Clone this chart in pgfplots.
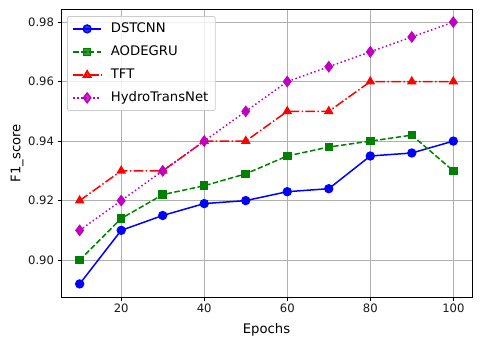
\documentclass[border=0pt]{standalone}
\usepackage{fontspec}
\setmainfont{DejaVu Sans}
\usepackage{pgfplots}
\pgfplotsset{compat=1.18}
\usepackage{pgfplotstable}
\usetikzlibrary{calc}

\definecolor{hydro}{rgb}{0.75,0,0.75}
\definecolor{aode}{rgb}{0,0.5,0}
\definecolor{gridgray}{HTML}{B0B0B0}
\definecolor{legedge}{HTML}{CCCCCC}

\pgfplotstableread{
epoch dstcnn aodegru tft hydro
10  0.892 0.900 0.920 0.910
20  0.910 0.914 0.930 0.920
30  0.915 0.922 0.930 0.930
40  0.919 0.925 0.940 0.940
50  0.920 0.929 0.940 0.950
60  0.923 0.935 0.950 0.960
70  0.924 0.938 0.950 0.965
80  0.935 0.940 0.960 0.970
90  0.936 0.942 0.960 0.975
100 0.940 0.930 0.960 0.980
}\scores

\begin{document}
\begin{tikzpicture}
\begin{axis}[
    scale only axis,
    width=411pt, height=288pt,
    xmin=5.5, xmax=104.5,
    ymin=0.8876, ymax=0.9844,
    xtick={20,40,60,80,100},
    ytick={0.90,0.92,0.94,0.96,0.98},
    yticklabel style={/pgf/number format/.cd, fixed, fixed zerofill, precision=2},
    /pgf/number format/assume math mode=true,
    tick label style={font=\fontsize{11.6}{13}\selectfont, text=black!90},
    tick align=outside,
    major tick length=3.5pt,
    every tick/.style={black, line width=0.8pt},
    xtick pos=left, ytick pos=left,
    grid=major,
    major grid style={gridgray, line width=0.8pt},
    axis line style={black, line width=0.8pt},
    xlabel={Epochs},
    ylabel={F1\_score},
    label style={font=\fontsize{13.2}{15}\selectfont},
    xlabel style={at={(axis description cs:0.5,-0.1146)}, anchor=center},
    ylabel style={at={(axis description cs:-0.107,0.5)}, anchor=center},
    legend style={at={(axis description cs:0,1)}, anchor=north west,
        xshift=6pt, yshift=-7pt,
        draw=legedge, line width=0.8pt, rounded corners=2pt,
        fill=white, fill opacity=0.8, text opacity=1,
        font=\fontsize{13.2}{15}\selectfont,
        row sep=6pt, inner xsep=5pt, inner ysep=4pt,
        nodes={text height=10pt, text depth=3pt, inner sep=2pt},
        /tikz/every odd column/.append style={column sep=7pt},
        cells={anchor=west}},
    legend cell align=left,
    legend image code/.code={
        \draw[mark repeat=2,mark phase=2] plot coordinates {(0pt,0pt) (14pt,0pt) (28pt,0pt)};},
]
\addplot[blue, line width=1.5pt, mark=*, mark size=3.9pt, mark options={solid}]
    table[x=epoch, y=dstcnn] {\scores};
\addlegendentry{DSTCNN}
\addplot[aode, line width=1.5pt, dash pattern=on 5.5pt off 2.4pt, mark=square*, mark size=3.5pt, mark options={solid}]
    table[x=epoch, y=aodegru] {\scores};
\addlegendentry{AODEGRU}
\addplot[red, line width=1.5pt, dash pattern=on 9.6pt off 2.4pt on 1.5pt off 2.4pt, mark=triangle*, mark size=4.2pt, mark options={solid}]
    table[x=epoch, y=tft] {\scores};
\addlegendentry{TFT}
\addplot[hydro, line width=1.5pt, dash pattern=on 1.5pt off 2.5pt, mark=diamond*, mark size=4.8pt, mark options={solid}]
    table[x=epoch, y=hydro] {\scores};
\addlegendentry{HydroTransNet}
\end{axis}
\path ($(current axis.south west)+(-61pt,-51pt)$) rectangle ($(current axis.north east)+(8pt,9pt)$);
\end{tikzpicture}
\end{document}
